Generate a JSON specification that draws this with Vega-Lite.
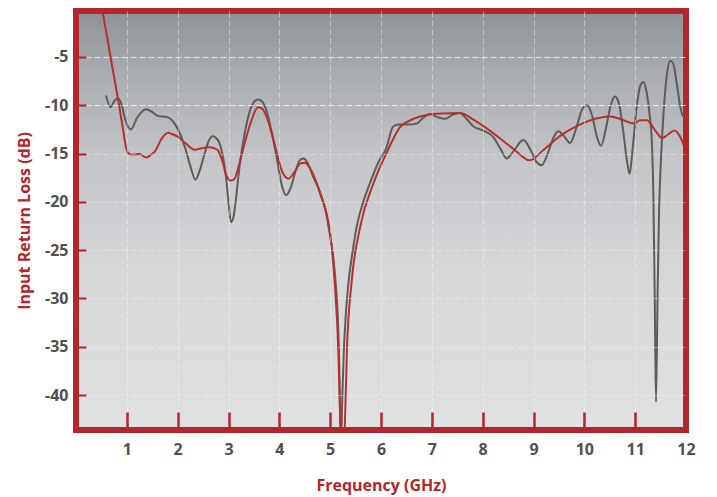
{
  "$schema": "https://vega.github.io/schema/vega-lite/v6.json",
  "width": 610,
  "height": 419,
  "autosize": {"type": "none"},
  "padding": {"left": 76, "top": 11, "right": 31, "bottom": 67},
  "background": "white",
  "config": {
    "view": {"stroke": null},
    "font": "Open Sans",
    "axis": {
      "labelFont": "Open Sans",
      "labelFontWeight": "bold",
      "labelFontSize": 16,
      "labelColor": "#505050",
      "titleFont": "Open Sans",
      "titleFontWeight": "bold",
      "titleFontSize": 16,
      "titleColor": "#b3262b",
      "tickColor": "#b3262b",
      "domain": false,
      "grid": true,
      "gridColor": "#ffffff",
      "gridDash": [6, 3],
      "gridWidth": 1
    }
  },
  "datasets": {
    "bg": [{"x0": 0, "x1": 12, "y0": -0.24, "y1": -43.62}],
    "curves": [
      {"series": "Measured", "f": 0.59, "db": -9.0},
      {"series": "Measured", "f": 0.68, "db": -10.2},
      {"series": "Measured", "f": 0.75, "db": -9.6},
      {"series": "Measured", "f": 0.82, "db": -9.3},
      {"series": "Measured", "f": 0.89, "db": -9.8},
      {"series": "Measured", "f": 0.97, "db": -11.5},
      {"series": "Measured", "f": 1.08, "db": -12.5},
      {"series": "Measured", "f": 1.2, "db": -11.3},
      {"series": "Measured", "f": 1.38, "db": -10.4},
      {"series": "Measured", "f": 1.5, "db": -10.7},
      {"series": "Measured", "f": 1.61, "db": -11.1},
      {"series": "Measured", "f": 1.81, "db": -11.25},
      {"series": "Measured", "f": 1.94, "db": -11.9},
      {"series": "Measured", "f": 2.05, "db": -13.0},
      {"series": "Measured", "f": 2.14, "db": -14.3},
      {"series": "Measured", "f": 2.25, "db": -16.3},
      {"series": "Measured", "f": 2.35, "db": -17.7},
      {"series": "Measured", "f": 2.45, "db": -16.5},
      {"series": "Measured", "f": 2.53, "db": -15.0},
      {"series": "Measured", "f": 2.62, "db": -13.6},
      {"series": "Measured", "f": 2.69, "db": -13.2},
      {"series": "Measured", "f": 2.76, "db": -13.4},
      {"series": "Measured", "f": 2.82, "db": -13.9},
      {"series": "Measured", "f": 2.9, "db": -15.6},
      {"series": "Measured", "f": 2.95, "db": -17.4},
      {"series": "Measured", "f": 3.0, "db": -20.0},
      {"series": "Measured", "f": 3.05, "db": -22.1},
      {"series": "Measured", "f": 3.1, "db": -21.5},
      {"series": "Measured", "f": 3.15, "db": -19.5},
      {"series": "Measured", "f": 3.22, "db": -16.2},
      {"series": "Measured", "f": 3.32, "db": -12.9},
      {"series": "Measured", "f": 3.42, "db": -10.6},
      {"series": "Measured", "f": 3.51, "db": -9.6},
      {"series": "Measured", "f": 3.58, "db": -9.4},
      {"series": "Measured", "f": 3.66, "db": -9.6},
      {"series": "Measured", "f": 3.75, "db": -10.6},
      {"series": "Measured", "f": 3.85, "db": -12.8},
      {"series": "Measured", "f": 3.95, "db": -15.5},
      {"series": "Measured", "f": 4.05, "db": -18.3},
      {"series": "Measured", "f": 4.13, "db": -19.3},
      {"series": "Measured", "f": 4.22, "db": -18.6},
      {"series": "Measured", "f": 4.32, "db": -16.8},
      {"series": "Measured", "f": 4.4, "db": -15.7},
      {"series": "Measured", "f": 4.47, "db": -15.5},
      {"series": "Measured", "f": 4.55, "db": -15.9},
      {"series": "Measured", "f": 4.65, "db": -17.2},
      {"series": "Measured", "f": 4.8, "db": -19.0},
      {"series": "Measured", "f": 4.9, "db": -20.7},
      {"series": "Measured", "f": 5.0, "db": -23.6},
      {"series": "Measured", "f": 5.06, "db": -25.7},
      {"series": "Measured", "f": 5.11, "db": -28.5},
      {"series": "Measured", "f": 5.15, "db": -31.9},
      {"series": "Measured", "f": 5.18, "db": -37.0},
      {"series": "Measured", "f": 5.21, "db": -46.0},
      {"series": "Measured", "f": 5.24, "db": -40.0},
      {"series": "Measured", "f": 5.27, "db": -35.3},
      {"series": "Measured", "f": 5.31, "db": -31.5},
      {"series": "Measured", "f": 5.36, "db": -28.4},
      {"series": "Measured", "f": 5.44, "db": -25.2},
      {"series": "Measured", "f": 5.52, "db": -22.6},
      {"series": "Measured", "f": 5.65, "db": -20.0},
      {"series": "Measured", "f": 5.78, "db": -18.1},
      {"series": "Measured", "f": 5.95, "db": -15.9},
      {"series": "Measured", "f": 6.1, "db": -14.5},
      {"series": "Measured", "f": 6.24, "db": -12.2},
      {"series": "Measured", "f": 6.35, "db": -12.0},
      {"series": "Measured", "f": 6.44, "db": -12.0},
      {"series": "Measured", "f": 6.55, "db": -12.0},
      {"series": "Measured", "f": 6.7, "db": -11.9},
      {"series": "Measured", "f": 6.85, "db": -11.2},
      {"series": "Measured", "f": 6.96, "db": -10.9},
      {"series": "Measured", "f": 7.1, "db": -11.2},
      {"series": "Measured", "f": 7.26, "db": -11.4},
      {"series": "Measured", "f": 7.4, "db": -11.0},
      {"series": "Measured", "f": 7.55, "db": -10.8},
      {"series": "Measured", "f": 7.68, "db": -11.4},
      {"series": "Measured", "f": 7.82, "db": -12.2},
      {"series": "Measured", "f": 8.0, "db": -12.6},
      {"series": "Measured", "f": 8.21, "db": -13.3},
      {"series": "Measured", "f": 8.35, "db": -14.5},
      {"series": "Measured", "f": 8.47, "db": -15.5},
      {"series": "Measured", "f": 8.6, "db": -14.8},
      {"series": "Measured", "f": 8.8, "db": -13.6},
      {"series": "Measured", "f": 8.95, "db": -14.7},
      {"series": "Measured", "f": 9.05, "db": -15.8},
      {"series": "Measured", "f": 9.16, "db": -16.2},
      {"series": "Measured", "f": 9.28, "db": -15.0},
      {"series": "Measured", "f": 9.38, "db": -13.5},
      {"series": "Measured", "f": 9.49, "db": -12.7},
      {"series": "Measured", "f": 9.6, "db": -13.2},
      {"series": "Measured", "f": 9.72, "db": -13.9},
      {"series": "Measured", "f": 9.85, "db": -12.2},
      {"series": "Measured", "f": 9.95, "db": -10.5},
      {"series": "Measured", "f": 10.05, "db": -10.0},
      {"series": "Measured", "f": 10.15, "db": -11.0},
      {"series": "Measured", "f": 10.25, "db": -13.3},
      {"series": "Measured", "f": 10.33, "db": -14.2},
      {"series": "Measured", "f": 10.42, "db": -12.5},
      {"series": "Measured", "f": 10.52, "db": -10.0},
      {"series": "Measured", "f": 10.6, "db": -9.1},
      {"series": "Measured", "f": 10.68, "db": -9.8},
      {"series": "Measured", "f": 10.76, "db": -12.5},
      {"series": "Measured", "f": 10.84, "db": -15.8},
      {"series": "Measured", "f": 10.89, "db": -17.1},
      {"series": "Measured", "f": 10.95, "db": -14.5},
      {"series": "Measured", "f": 11.03, "db": -10.2},
      {"series": "Measured", "f": 11.1, "db": -8.0},
      {"series": "Measured", "f": 11.16, "db": -7.6},
      {"series": "Measured", "f": 11.22, "db": -8.5},
      {"series": "Measured", "f": 11.28, "db": -10.8},
      {"series": "Measured", "f": 11.33, "db": -14.0},
      {"series": "Measured", "f": 11.36, "db": -20.0},
      {"series": "Measured", "f": 11.385, "db": -30.0},
      {"series": "Measured", "f": 11.41, "db": -40.7},
      {"series": "Measured", "f": 11.44, "db": -30.0},
      {"series": "Measured", "f": 11.47, "db": -21.0},
      {"series": "Measured", "f": 11.5, "db": -16.5},
      {"series": "Measured", "f": 11.55, "db": -11.5},
      {"series": "Measured", "f": 11.62, "db": -7.0},
      {"series": "Measured", "f": 11.69, "db": -5.4},
      {"series": "Measured", "f": 11.75, "db": -5.7},
      {"series": "Measured", "f": 11.82, "db": -7.8},
      {"series": "Measured", "f": 11.89, "db": -10.2},
      {"series": "Measured", "f": 11.95, "db": -11.2},
      {"series": "Measured", "f": 12.0, "db": -11.0},
      {"series": "Simulated", "f": 0.45, "db": 2.0},
      {"series": "Simulated", "f": 0.53, "db": -0.5},
      {"series": "Simulated", "f": 0.6, "db": -2.6},
      {"series": "Simulated", "f": 0.7, "db": -5.6},
      {"series": "Simulated", "f": 0.83, "db": -9.45},
      {"series": "Simulated", "f": 0.92, "db": -12.3},
      {"series": "Simulated", "f": 0.98, "db": -14.3},
      {"series": "Simulated", "f": 1.04, "db": -15.0},
      {"series": "Simulated", "f": 1.12, "db": -15.1},
      {"series": "Simulated", "f": 1.25, "db": -15.05},
      {"series": "Simulated", "f": 1.38, "db": -15.4},
      {"series": "Simulated", "f": 1.48, "db": -15.1},
      {"series": "Simulated", "f": 1.55, "db": -14.8},
      {"series": "Simulated", "f": 1.68, "db": -13.5},
      {"series": "Simulated", "f": 1.81, "db": -12.85},
      {"series": "Simulated", "f": 1.9, "db": -13.0},
      {"series": "Simulated", "f": 2.0, "db": -13.25},
      {"series": "Simulated", "f": 2.15, "db": -13.9},
      {"series": "Simulated", "f": 2.33, "db": -14.6},
      {"series": "Simulated", "f": 2.47, "db": -14.45},
      {"series": "Simulated", "f": 2.6, "db": -14.35},
      {"series": "Simulated", "f": 2.72, "db": -14.45},
      {"series": "Simulated", "f": 2.79, "db": -14.65},
      {"series": "Simulated", "f": 2.88, "db": -15.8},
      {"series": "Simulated", "f": 2.96, "db": -17.3},
      {"series": "Simulated", "f": 3.05, "db": -17.8},
      {"series": "Simulated", "f": 3.12, "db": -17.6},
      {"series": "Simulated", "f": 3.2, "db": -16.3},
      {"series": "Simulated", "f": 3.32, "db": -13.9},
      {"series": "Simulated", "f": 3.45, "db": -11.6},
      {"series": "Simulated", "f": 3.58, "db": -10.2},
      {"series": "Simulated", "f": 3.65, "db": -10.3},
      {"series": "Simulated", "f": 3.75, "db": -11.2},
      {"series": "Simulated", "f": 3.85, "db": -12.9},
      {"series": "Simulated", "f": 3.95, "db": -14.9},
      {"series": "Simulated", "f": 4.05, "db": -16.8},
      {"series": "Simulated", "f": 4.18, "db": -17.6},
      {"series": "Simulated", "f": 4.3, "db": -16.9},
      {"series": "Simulated", "f": 4.42, "db": -16.0},
      {"series": "Simulated", "f": 4.5, "db": -15.95},
      {"series": "Simulated", "f": 4.6, "db": -16.5},
      {"series": "Simulated", "f": 4.8, "db": -19.1},
      {"series": "Simulated", "f": 5.0, "db": -23.3},
      {"series": "Simulated", "f": 5.09, "db": -28.4},
      {"series": "Simulated", "f": 5.16, "db": -35.3},
      {"series": "Simulated", "f": 5.2, "db": -42.9},
      {"series": "Simulated", "f": 5.245, "db": -47.0},
      {"series": "Simulated", "f": 5.29, "db": -42.9},
      {"series": "Simulated", "f": 5.33, "db": -35.3},
      {"series": "Simulated", "f": 5.42, "db": -28.4},
      {"series": "Simulated", "f": 5.59, "db": -22.6},
      {"series": "Simulated", "f": 5.85, "db": -18.1},
      {"series": "Simulated", "f": 6.14, "db": -14.6},
      {"series": "Simulated", "f": 6.37, "db": -12.3},
      {"series": "Simulated", "f": 6.6, "db": -11.5},
      {"series": "Simulated", "f": 6.9, "db": -11.0},
      {"series": "Simulated", "f": 7.2, "db": -10.85},
      {"series": "Simulated", "f": 7.55, "db": -10.8},
      {"series": "Simulated", "f": 7.85, "db": -11.6},
      {"series": "Simulated", "f": 8.21, "db": -12.9},
      {"series": "Simulated", "f": 8.6, "db": -14.5},
      {"series": "Simulated", "f": 8.93, "db": -15.7},
      {"series": "Simulated", "f": 9.2, "db": -14.6},
      {"series": "Simulated", "f": 9.52, "db": -13.2},
      {"series": "Simulated", "f": 9.8, "db": -12.3},
      {"series": "Simulated", "f": 10.05, "db": -11.7},
      {"series": "Simulated", "f": 10.3, "db": -11.3},
      {"series": "Simulated", "f": 10.51, "db": -11.15},
      {"series": "Simulated", "f": 10.75, "db": -11.5},
      {"series": "Simulated", "f": 10.97, "db": -11.9},
      {"series": "Simulated", "f": 11.1, "db": -11.55},
      {"series": "Simulated", "f": 11.23, "db": -11.55},
      {"series": "Simulated", "f": 11.38, "db": -12.5},
      {"series": "Simulated", "f": 11.53, "db": -13.4},
      {"series": "Simulated", "f": 11.65, "db": -13.0},
      {"series": "Simulated", "f": 11.77, "db": -12.6},
      {"series": "Simulated", "f": 11.88, "db": -13.2},
      {"series": "Simulated", "f": 12.0, "db": -14.8}
    ]
  },
  "layer": [
    {
      "data": {"name": "bg"},
      "mark": {
        "type": "rect",
        "color": {
          "gradient": "linear",
          "x1": 0, "y1": 0, "x2": 0, "y2": 1,
          "stops": [
            {"offset": 0, "color": "#8e9196"},
            {"offset": 0.15, "color": "#a9acb0"},
            {"offset": 0.35, "color": "#c3c5c8"},
            {"offset": 0.6, "color": "#d4d6d8"},
            {"offset": 1, "color": "#e0e1e3"}
          ]
        }
      },
      "encoding": {
        "x": {
          "field": "x0", "type": "quantitative",
          "scale": {"domain": [0, 12], "nice": false, "zero": false},
          "axis": {
            "zindex": 1,
            "values": [1, 2, 3, 4, 5, 6, 7, 8, 9, 10, 11, 12],
            "title": "Frequency (GHz)",
            "tickSize": -18,
            "tickWidth": 2.5,
            "labelPadding": 29,
            "titlePadding": 20,
            "labelFlush": false,
            "gridOpacity": {"condition": {"test": "datum.value >= 12", "value": 0}, "value": 0.4},
            "tickOpacity": {"condition": {"test": "datum.value >= 12", "value": 0}, "value": 1}
          }
        },
        "x2": {"field": "x1"},
        "y": {
          "field": "y0", "type": "quantitative",
          "scale": {"domain": [-43.62, -0.24], "nice": false, "zero": false},
          "axis": {
            "zindex": 1,
            "values": [-40, -35, -30, -25, -20, -15, -10, -5],
            "labelExpr": "replace(datum.label, '\u2212', '-')",
            "title": "Input Return Loss (dB)",
            "tickSize": -10,
            "tickWidth": 2,
            "labelPadding": 18,
            "titlePadding": 12,
            "labelFlush": false,
            "gridOpacity": {"condition": {"test": "datum.value >= -10", "value": 0.7}, "value": 0.35}
          }
        },
        "y2": {"field": "y1"}
      }
    },
    {
      "data": {"name": "curves"},
      "mark": {"type": "line", "interpolate": "monotone", "strokeWidth": 2, "clip": true},
      "encoding": {
        "x": {"field": "f", "type": "quantitative"},
        "y": {"field": "db", "type": "quantitative"},
        "color": {
          "field": "series", "type": "nominal",
          "scale": {"domain": ["Measured", "Simulated"], "range": ["#5e5b5a", "#b8302c"]},
          "legend": null
        },
        "order": {"field": "f", "type": "quantitative"}
      }
    },
    {
      "data": {"name": "bg"},
      "mark": {"type": "rect", "fill": null, "stroke": "#b3262b", "strokeWidth": 6},
      "encoding": {
        "x": {"field": "x0", "type": "quantitative"},
        "x2": {"field": "x1"},
        "y": {"field": "y0", "type": "quantitative"},
        "y2": {"field": "y1"}
      }
    }
  ]
}
